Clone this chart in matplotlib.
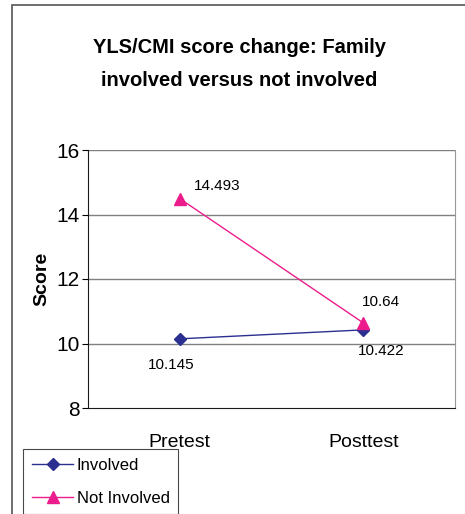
import matplotlib
matplotlib.use("Agg")
import matplotlib.pyplot as plt
from matplotlib.patches import Rectangle

NAVY = "#2b2f8f"
PINK = "#ec1c8c"
INK = "#1a1a1a"
GRID = "#808080"

plt.rcParams["font.family"] = ["Liberation Sans Narrow", "Liberation Sans", "DejaVu Sans"]

categories = ["Pretest", "Posttest"]
involved = [10.145, 10.422]
not_involved = [14.493, 10.64]
involved_labels = ["10.145", "10.422"]
not_involved_labels = ["14.493", "10.64"]
yticks = [8, 10, 12, 14, 16]

fig = plt.figure(figsize=(4.65, 5.14), dpi=100)

# outer chart border (cut off at right and bottom in the original)
fig.patches.append(Rectangle((12 / 465, -0.1), 1.2, 1.1 - 5 / 514,
                             transform=fig.transFigure, fill=False,
                             edgecolor="#555555", linewidth=1.2))

ax = fig.add_axes([88 / 465, 1 - 408 / 514, 367 / 465, 258 / 514])

x = [0.5, 1.5]
ax.plot(x, involved, color=NAVY, linewidth=1.0, marker="D", markersize=6,
        label="Involved", zorder=3)
ax.plot(x, not_involved, color=PINK, linewidth=1.0, marker="^", markersize=8,
        label="Not Involved", zorder=3)

# data labels
ax.annotate(not_involved_labels[0], (x[0], not_involved[0]), xytext=(10, 4),
            textcoords="offset points", fontsize=11, ha="left", va="bottom")
ax.annotate(involved_labels[0], (x[0], involved[0]), xytext=(-6, -14),
            textcoords="offset points", fontsize=11, ha="center", va="top")
ax.annotate(not_involved_labels[1], (x[1], not_involved[1]), xytext=(13, 10),
            textcoords="offset points", fontsize=11, ha="center", va="bottom")
ax.annotate(involved_labels[1], (x[1], involved[1]), xytext=(13, -10),
            textcoords="offset points", fontsize=11, ha="center", va="top")

ax.set_xlim(0, 2)
ax.set_ylim(8, 16)
ax.set_yticks(yticks)
ax.set_yticklabels([str(v) for v in yticks], fontsize=15)
ax.set_xticks(x)
ax.set_xticklabels(categories, fontsize=14)
ax.tick_params(axis="x", length=0, pad=19)
ax.tick_params(axis="y", length=4, direction="out", pad=2)
for v in yticks[1:]:
    ax.axhline(v, color=GRID, linewidth=1.0, zorder=1)

ax.spines["top"].set_visible(False)
ax.spines["right"].set_color("#999999")
ax.spines["left"].set_color(INK)
ax.spines["bottom"].set_color(INK)
ax.set_ylabel("Score", fontsize=14, fontweight="bold", labelpad=4)

fig.text(0.515, 1 - 64 / 514, "YLS/CMI score change: Family\ninvolved versus not involved",
         ha="center", va="center", fontsize=14.5, fontweight="bold",
         linespacing=1.95)

leg = fig.legend(loc="upper left", bbox_to_anchor=(15 / 465, 1 - 441 / 514),
                 fontsize=12, frameon=True, fancybox=False, edgecolor=INK,
                 handlelength=2.5, borderpad=0.5, labelspacing=1.1,
                 handletextpad=0.2)
leg.get_frame().set_linewidth(0.8)

fig.savefig("out.png", dpi=100)
